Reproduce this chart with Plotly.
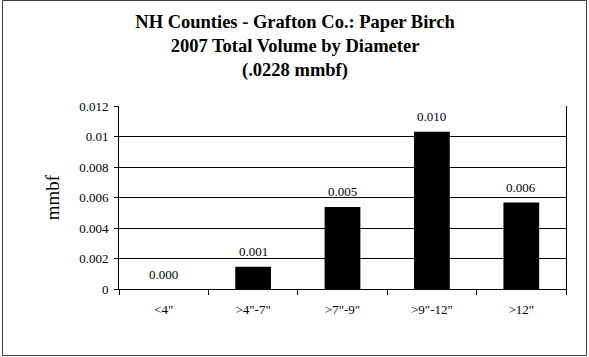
import plotly.graph_objects as go

categories = ['<4"', '>4"-7"', '>7"-9"', '>9"-12"', '>12"']
volumes = [0.0, 0.00146, 0.00538, 0.01031, 0.00568]
bar_labels = ["0.000", "0.001", "0.005", "0.010", "0.006"]
y_tickvals = [0, 0.002, 0.004, 0.006, 0.008, 0.010, 0.012]
y_ticktext = ["0", "0.002", "0.004", "0.006", "0.008", "0.01", "0.012"]

W, H = 589, 357
L, R, T, B = 119, 566, 106, 289
SERIF = "Liberation Serif"

fig = go.Figure(go.Bar(
    x=categories, y=volumes,
    marker=dict(color="black", line=dict(width=0)),
    cliponaxis=False,
))

def px(x):
    return (x - L) / (R - L)

def py(y):
    return (B - y) / (B - T)

annotations = [
    dict(x=c, y=v, xref="x", yref="y", text=t, showarrow=False,
         yanchor="middle", yshift=15,
         font=dict(family=SERIF, size=13, color="black"))
    for c, v, t in zip(categories, volumes, bar_labels)
]

fig.update_layout(
    width=W, height=H,
    margin=dict(l=L, r=W - R, t=T, b=H - B, pad=0),
    paper_bgcolor="white", plot_bgcolor="white",
    bargap=0.6,
    showlegend=False,
    font=dict(family=SERIF, color="black"),
    title=dict(
        text="<b>NH Counties - Grafton Co.: Paper Birch<br>2007 Total Volume by Diameter<br>(.0228 mmbf)</b>",
        x=295 / W, xref="container", xanchor="center",
        y=1 - 28 / H, yref="container", yanchor="top",
        font=dict(family=SERIF, size=18.5, color="black"),
    ),
    xaxis=dict(
        type="category", showgrid=False, showline=True, linecolor="black", linewidth=1,
        mirror=False, ticks="outside", ticklen=5, tickcolor="black", tickson="boundaries",
        tickfont=dict(family=SERIF, size=13, color="black"),
        ticklabelstandoff=8,
    ),
    yaxis=dict(
        range=[0, 0.012], tickvals=y_tickvals, ticktext=y_ticktext,
        showgrid=True, gridcolor="black", gridwidth=1,
        showline=True, linecolor="black", linewidth=1, mirror=True,
        ticks="outside", ticklen=4, tickcolor="black",
        tickfont=dict(family=SERIF, size=13, color="black"),
        ticklabelstandoff=3,
        zeroline=False,
        title=dict(text="mmbf", font=dict(family=SERIF, size=19, color="black"), standoff=14),
    ),
    annotations=annotations,
    shapes=[dict(
        type="rect", xref="paper", yref="paper",
        x0=px(2.5), x1=px(586.5), y0=py(355.5), y1=py(0.5),
        line=dict(color="#404040", width=1), fillcolor="rgba(0,0,0,0)", layer="above",
    )],
)

fig.write_html(
    "out.html",
    config={"displayModeBar": False},
    post_script="document.body.style.margin='0';document.body.style.overflow='hidden';",
)
